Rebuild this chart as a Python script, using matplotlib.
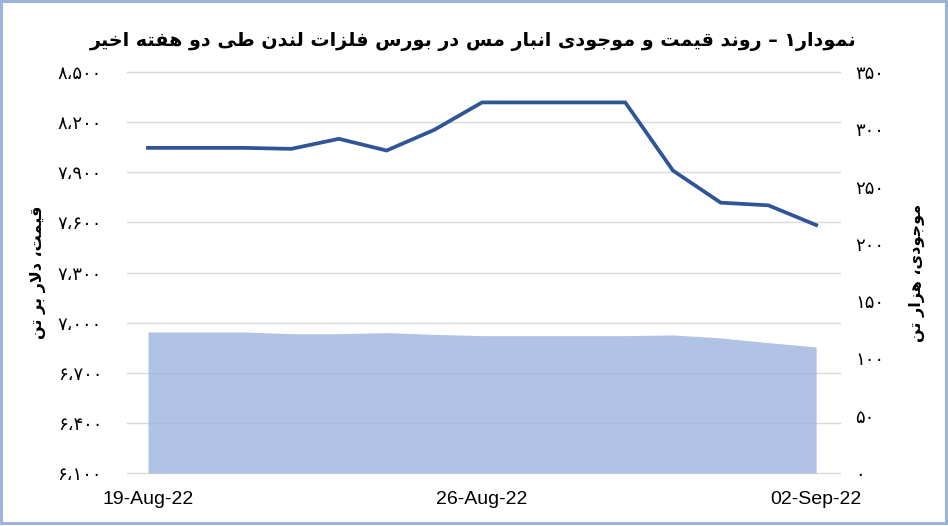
import matplotlib
matplotlib.use("Agg")
import matplotlib.pyplot as plt
from matplotlib.patches import Rectangle
from matplotlib.transforms import blended_transform_factory

# ---------------- data ----------------
dates = ["19-Aug-22", "20-Aug-22", "21-Aug-22", "22-Aug-22", "23-Aug-22", "24-Aug-22",
         "25-Aug-22", "26-Aug-22", "27-Aug-22", "28-Aug-22", "29-Aug-22", "30-Aug-22",
         "31-Aug-22", "01-Sep-22", "02-Sep-22"]
price = [8046, 8046, 8046, 8040, 8100, 8030, 8154, 8318, 8318, 8318, 8318, 7910, 7718, 7702, 7584]
stock = [123.1, 123.1, 123.1, 121.6, 121.6, 122.5, 121.0, 119.9, 119.9, 119.9, 119.9, 120.5, 117.9, 113.8, 110.0]
xtick_labels = ["19-Aug-22", "26-Aug-22", "02-Sep-22"]
left_ticks = [6100, 6400, 6700, 7000, 7300, 7600, 7900, 8200, 8500]
right_ticks = [0, 50, 100, 150, 200, 250, 300, 350]

title_text = "نمودار۱ – روند قیمت و موجودی انبار مس در بورس فلزات لندن طی دو هفته اخیر"
left_label = "قیمت، دلار بر تن"
right_label = "موجودی، هزار تن"

# ---------------- minimal Persian shaping ----------------
FORMS = {
    '\u0627': ('\uFE8D', '\uFE8E', None, None),
    '\u0622': ('\uFE81', '\uFE82', None, None),
    '\u0628': ('\uFE8F', '\uFE90', '\uFE91', '\uFE92'),
    '\u067E': ('\uFB56', '\uFB57', '\uFB58', '\uFB59'),
    '\u062A': ('\uFE95', '\uFE96', '\uFE97', '\uFE98'),
    '\u062B': ('\uFE99', '\uFE9A', '\uFE9B', '\uFE9C'),
    '\u062C': ('\uFE9D', '\uFE9E', '\uFE9F', '\uFEA0'),
    '\u0686': ('\uFB7A', '\uFB7B', '\uFB7C', '\uFB7D'),
    '\u062D': ('\uFEA1', '\uFEA2', '\uFEA3', '\uFEA4'),
    '\u062E': ('\uFEA5', '\uFEA6', '\uFEA7', '\uFEA8'),
    '\u062F': ('\uFEA9', '\uFEAA', None, None),
    '\u0630': ('\uFEAB', '\uFEAC', None, None),
    '\u0631': ('\uFEAD', '\uFEAE', None, None),
    '\u0632': ('\uFEAF', '\uFEB0', None, None),
    '\u0698': ('\uFB8A', '\uFB8B', None, None),
    '\u0633': ('\uFEB1', '\uFEB2', '\uFEB3', '\uFEB4'),
    '\u0634': ('\uFEB5', '\uFEB6', '\uFEB7', '\uFEB8'),
    '\u0635': ('\uFEB9', '\uFEBA', '\uFEBB', '\uFEBC'),
    '\u0636': ('\uFEBD', '\uFEBE', '\uFEBF', '\uFEC0'),
    '\u0637': ('\uFEC1', '\uFEC2', '\uFEC3', '\uFEC4'),
    '\u0638': ('\uFEC5', '\uFEC6', '\uFEC7', '\uFEC8'),
    '\u0639': ('\uFEC9', '\uFECA', '\uFECB', '\uFECC'),
    '\u063A': ('\uFECD', '\uFECE', '\uFECF', '\uFED0'),
    '\u0641': ('\uFED1', '\uFED2', '\uFED3', '\uFED4'),
    '\u0642': ('\uFED5', '\uFED6', '\uFED7', '\uFED8'),
    '\u06A9': ('\uFB8E', '\uFB8F', '\uFB90', '\uFB91'),
    '\u06AF': ('\uFB92', '\uFB93', '\uFB94', '\uFB95'),
    '\u0644': ('\uFEDD', '\uFEDE', '\uFEDF', '\uFEE0'),
    '\u0645': ('\uFEE1', '\uFEE2', '\uFEE3', '\uFEE4'),
    '\u0646': ('\uFEE5', '\uFEE6', '\uFEE7', '\uFEE8'),
    '\u0647': ('\uFEE9', '\uFEEA', '\uFEEB', '\uFEEC'),
    '\u0648': ('\uFEED', '\uFEEE', None, None),
    '\u06CC': ('\uFBFC', '\uFBFD', '\uFBFE', '\uFBFF'),
    'LA': ('\uFEFB', '\uFEFC', None, None),
}


def shape(text):
    chars = []
    i = 0
    while i < len(text):
        if text[i] == '\u0644' and i + 1 < len(text) and text[i + 1] == '\u0627':
            chars.append('LA')
            i += 2
        else:
            chars.append(text[i])
            i += 1
    out = []
    for k, c in enumerate(chars):
        if c not in FORMS:
            out.append(c)
            continue
        iso, fin, ini, med = FORMS[c]
        prev = chars[k - 1] if k > 0 else None
        nxt = chars[k + 1] if k + 1 < len(chars) else None
        join_prev = prev in FORMS and FORMS[prev][2] is not None
        join_next = ini is not None and nxt in FORMS
        if join_prev and join_next:
            out.append(med)
        elif join_prev:
            out.append(fin)
        elif join_next:
            out.append(ini)
        else:
            out.append(iso)
    return ''.join(out)[::-1]


fa_digits = str.maketrans("0123456789", "۰۱۲۳۴۵۶۷۸۹")


def fa_num(v):
    s = f"{v:,}".replace(",", "،")
    return s.translate(fa_digits)


# ---------------- plot ----------------
W, H = 948, 526
fig = plt.figure(figsize=(W / 100, H / 100), dpi=100)
fig.patch.set_facecolor("white")

ax_r = fig.add_axes([127 / W, 1 - 473 / H, (840 - 127) / W, (473 - 72) / H])
ax_l = ax_r.twinx()

x = list(range(len(dates)))

# area (right axis)
ax_r.fill_between(x, 0, stock, color="#9CB4DE", alpha=0.8, linewidth=0, zorder=2)
ax_r.set_ylim(0, 350)
ax_r.set_xlim(-0.44, 14.5)

# line (left axis)
ax_l.plot(x, price, color="#2F5597", linewidth=2.7, solid_joinstyle="miter", zorder=3)
ax_l.set_ylim(6100, 8500)

# price on left, stock on right
ax_l.yaxis.tick_left()
ax_r.yaxis.tick_right()
ax_l.set_yticks(left_ticks)
ax_l.set_yticklabels([fa_num(v) for v in left_ticks], fontsize=13, family="DejaVu Sans")
ax_r.set_yticks(right_ticks)
ax_r.set_yticklabels([fa_num(v) for v in right_ticks], fontsize=13, family="DejaVu Sans")

for a in (ax_l, ax_r):
    for s in a.spines.values():
        s.set_visible(False)
    a.tick_params(length=0)
ax_l.tick_params(axis="y", pad=18)
ax_r.tick_params(axis="y", pad=11)

ax_r.set_zorder(0)
ax_l.set_zorder(1)
ax_l.patch.set_visible(False)

# horizontal gridlines at the price ticks, drawn beneath the semi-transparent area
grid_tr = blended_transform_factory(ax_r.transAxes, ax_l.transData)
for v in left_ticks:
    ax_r.plot([0, 1], [v, v], transform=grid_tr, color="#D9D9D9", linewidth=1.0, zorder=1,
              clip_on=False)

# x ticks
xt = [dates.index(d) for d in xtick_labels]
ax_r.set_xticks(xt)
ax_r.set_xticklabels(xtick_labels, fontsize=14, family="Liberation Sans")
ax_r.tick_params(axis="x", pad=13)

# titles and axis labels
fig.text(473 / W, 1 - 41 / H, shape(title_text), ha="center", va="center",
         fontsize=13.8, fontweight="bold", family="DejaVu Sans")
fig.text(38 / W, 1 - 272 / H, shape(left_label), ha="center", va="center",
         rotation=90, fontsize=11.5, fontweight="bold", family="DejaVu Sans")
fig.text(917 / W, 1 - 273 / H, shape(right_label), ha="center", va="center",
         rotation=90, fontsize=11.5, fontweight="bold", family="DejaVu Sans")

# frame
fig.patches.append(Rectangle((1 / W, 3 / H), (W - 3) / W, (H - 4) / H, transform=fig.transFigure,
                             fill=False, edgecolor="#9DB3D8", linewidth=2.2))

fig.savefig("out.png", dpi=100, facecolor="white")
